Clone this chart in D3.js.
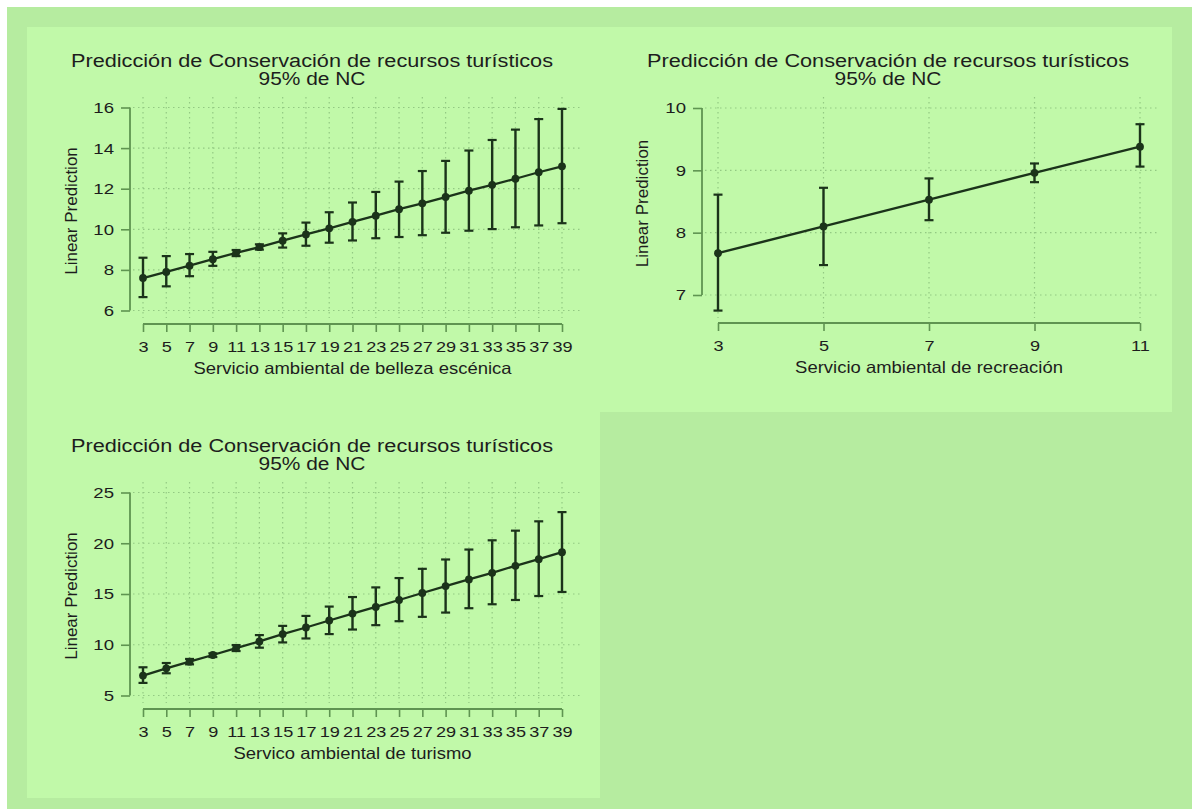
<!DOCTYPE html>
<html>
<head>
<meta charset="utf-8">
<script src="https://cdn.jsdelivr.net/npm/d3@7"></script>
<style>
  body { margin: 0; background: #ffffff; }
  text { font-family: "Liberation Sans", Arial, sans-serif; fill: #1d1d1d; }
</style>
</head>
<body>
<div id="chart"></div>
<script>
// ---- data ----
var title_1 = "Predicción de Conservación de recursos turísticos";
var title_2 = "95% de NC";
var y_title = "Linear Prediction";

// belleza escénica
var belleza_x = [3, 5, 7, 9, 11, 13, 15, 17, 19, 21, 23, 25, 27, 29, 31, 33, 35, 37, 39];
var belleza_fit = [7.60, 7.90, 8.21, 8.53, 8.84, 9.12, 9.44, 9.75, 10.05, 10.37, 10.67, 10.99, 11.28, 11.59, 11.90, 12.19, 12.49, 12.81, 13.10];
var belleza_hi = [8.60, 8.68, 8.78, 8.89, 8.98, 9.26, 9.80, 10.33, 10.84, 11.32, 11.84, 12.35, 12.87, 13.37, 13.88, 14.40, 14.91, 15.43, 15.93];
var belleza_lo = [6.66, 7.19, 7.69, 8.20, 8.68, 9.00, 9.10, 9.19, 9.34, 9.45, 9.56, 9.62, 9.71, 9.83, 9.93, 10.01, 10.10, 10.19, 10.30];
var belleza_yticks = [6, 8, 10, 12, 14, 16];
var belleza_label = "Servicio ambiental de belleza escénica";

// recreación
var recreacion_x = [3, 5, 7, 9, 11];
var recreacion_fit = [7.67, 8.10, 8.53, 8.96, 9.38];
var recreacion_hi = [8.61, 8.72, 8.87, 9.11, 9.74];
var recreacion_lo = [6.75, 7.48, 8.20, 8.81, 9.06];
var recreacion_yticks = [7, 8, 9, 10];
var recreacion_label = "Servicio ambiental de recreación";

// turismo
var turismo_x = [3, 5, 7, 9, 11, 13, 15, 17, 19, 21, 23, 25, 27, 29, 31, 33, 35, 37, 39];
var turismo_fit = [6.96, 7.68, 8.33, 8.99, 9.67, 10.33, 11.05, 11.70, 12.39, 13.07, 13.73, 14.41, 15.10, 15.78, 16.44, 17.09, 17.78, 18.43, 19.12];
var turismo_hi = [7.78, 8.20, 8.60, 9.15, 9.97, 10.95, 11.86, 12.84, 13.76, 14.70, 15.65, 16.57, 17.48, 18.40, 19.38, 20.29, 21.24, 22.16, 23.07];
var turismo_lo = [6.24, 7.19, 8.07, 8.79, 9.38, 9.71, 10.23, 10.62, 11.05, 11.50, 11.93, 12.32, 12.75, 13.17, 13.60, 13.99, 14.41, 14.80, 15.20];
var turismo_yticks = [5, 10, 15, 20, 25];
var turismo_label = "Servico ambiental de turismo";

// ---- layout ----
var W = 1192, H = 809;
var frame_col = "#b6eca0", panel_col = "#c1f9a9";
var axis_col = "#5f9451", grid_col = "#93c983", ink = "#1b331a";

var svg = d3.select("#chart").append("svg")
    .attr("width", W)
    .attr("height", H);

svg.append("rect")
    .attr("x", 7).attr("y", 7)
    .attr("width", W - 7).attr("height", H - 7)
    .attr("fill", frame_col);

// stretched label helper (the source picture is a bit wide)
function stext(g, x, y, str, size, sx, anchor) {
    return g.append("text")
        .attr("transform", "translate(" + x + "," + y + ") scale(" + sx + ",1)")
        .attr("text-anchor", anchor)
        .attr("font-size", size)
        .text(str);
}

function draw_panel(p) {
    var g = svg.append("g").attr("transform", "translate(" + p.ox + "," + p.oy + ")");

    g.append("rect")
        .attr("width", p.w).attr("height", p.h)
        .attr("fill", panel_col);

    var x = d3.scaleLinear()
        .domain(d3.extent(p.xs))
        .range([p.x0, p.x1]);
    var y = d3.scaleLinear()
        .domain(d3.extent(p.yticks))
        .range([p.y0, p.y1]);

    // grid
    g.append("g").selectAll("line")
        .data(p.yticks)
        .join("line")
            .attr("x1", p.gx0).attr("x2", p.gx1)
            .attr("y1", d => y(d)).attr("y2", d => y(d))
            .attr("stroke", grid_col)
            .attr("stroke-width", 1.2)
            .attr("stroke-dasharray", "1.5,3.5");
    g.append("g").selectAll("line")
        .data(p.xs)
        .join("line")
            .attr("x1", d => x(d)).attr("x2", d => x(d))
            .attr("y1", p.gy0).attr("y2", p.gy1)
            .attr("stroke", grid_col)
            .attr("stroke-width", 1.2)
            .attr("stroke-dasharray", "1.5,3.5");

    // y axis
    var yax = g.append("g")
        .attr("transform", "translate(" + p.ax + ",0)")
        .call(d3.axisLeft(y).tickValues(p.yticks).tickSize(9).tickPadding(7).tickFormat(d3.format("d")));
    // x axis
    var xax = g.append("g")
        .attr("transform", "translate(0," + p.ay + ")")
        .call(d3.axisBottom(x).tickValues(p.xs).tickSize(8).tickPadding(9).tickFormat(d3.format("d")));
    [yax, xax].forEach(function(a) {
        a.select(".domain").attr("stroke", axis_col).attr("stroke-width", 1.8);
        a.selectAll(".tick line").attr("stroke", axis_col).attr("stroke-width", 1.6);
        a.selectAll(".tick text")
            .attr("fill", "#1d1d1d")
            .attr("font-family", "Liberation Sans, Arial, sans-serif")
            .attr("font-size", 15.5);
    });
    yax.select(".domain").attr("d", "M0," + y(p.yticks[0]) + "V" + y(p.yticks[p.yticks.length - 1]));
    xax.select(".domain").attr("d", "M" + x(p.xs[0]) + ",0H" + x(p.xs[p.xs.length - 1]));
    xax.selectAll(".tick text").attr("transform", "scale(1.17,1)");
    yax.selectAll(".tick text").attr("transform", "scale(1.2,1)")
        .attr("x", -16 / 1.2);

    // error bars
    var rows = p.xs.map((v, i) => ({x: v, fit: p.fit[i], lo: p.lo[i], hi: p.hi[i]}));
    var eb = g.append("g").selectAll("g")
        .data(rows)
        .join("g");
    eb.append("line")
        .attr("x1", d => x(d.x)).attr("x2", d => x(d.x))
        .attr("y1", d => y(d.lo)).attr("y2", d => y(d.hi))
        .attr("stroke", ink).attr("stroke-width", 2.4);
    eb.append("line")
        .attr("x1", d => x(d.x) - 4.5).attr("x2", d => x(d.x) + 4.5)
        .attr("y1", d => y(d.hi)).attr("y2", d => y(d.hi))
        .attr("stroke", ink).attr("stroke-width", 2.2);
    eb.append("line")
        .attr("x1", d => x(d.x) - 4.5).attr("x2", d => x(d.x) + 4.5)
        .attr("y1", d => y(d.lo)).attr("y2", d => y(d.lo))
        .attr("stroke", ink).attr("stroke-width", 2.2);

    // fitted line + markers
    g.append("path")
        .datum(rows)
        .attr("fill", "none")
        .attr("stroke", ink)
        .attr("stroke-width", 2.3)
        .attr("d", d3.line().x(d => x(d.x)).y(d => y(d.fit)));
    g.append("g").selectAll("circle")
        .data(rows)
        .join("circle")
            .attr("cx", d => x(d.x))
            .attr("cy", d => y(d.fit))
            .attr("r", 3.9)
            .attr("fill", ink);

    // titles
    g.append("text")
        .attr("x", p.tx).attr("y", 40)
        .attr("text-anchor", "middle")
        .attr("font-size", 18)
        .attr("textLength", 482).attr("lengthAdjust", "spacingAndGlyphs")
        .text(title_1);
    g.append("text")
        .attr("x", p.tx).attr("y", 58)
        .attr("text-anchor", "middle")
        .attr("font-size", 18)
        .attr("textLength", 107).attr("lengthAdjust", "spacingAndGlyphs")
        .text(title_2);
    stext(g, (p.x0 + p.x1) / 2, p.ay + 50, p.label, 16.5, 1.12, "middle");
    g.append("text")
        .attr("transform", "translate(" + p.yl + "," + ((p.y0 + p.y1) / 2 + 2) + ") rotate(-90)")
        .attr("text-anchor", "middle")
        .attr("font-size", 17)
        .text(y_title);
}

var panels = [
    {ox: 27, oy: 27, w: 573, h: 385, xs: belleza_x, fit: belleza_fit, lo: belleza_lo, hi: belleza_hi,
     yticks: belleza_yticks, label: belleza_label,
     x0: 116, x1: 535, y0: 283.5, y1: 80.5, ax: 103, ay: 297, gx0: 106, gx1: 553, gy0: 70, gy1: 291,
     tx: 285, yl: 50},
    {ox: 600, oy: 27, w: 572, h: 385, xs: recreacion_x, fit: recreacion_fit, lo: recreacion_lo, hi: recreacion_hi,
     yticks: recreacion_yticks, label: recreacion_label,
     x0: 118, x1: 540, y0: 268, y1: 81, ax: 102, ay: 296, gx0: 105, gx1: 560, gy0: 70, gy1: 291,
     tx: 288, yl: 48},
    {ox: 27, oy: 412, w: 573, h: 386, xs: turismo_x, fit: turismo_fit, lo: turismo_lo, hi: turismo_hi,
     yticks: turismo_yticks, label: turismo_label,
     x0: 116, x1: 535, y0: 283.5, y1: 80.5, ax: 103, ay: 297, gx0: 106, gx1: 553, gy0: 70, gy1: 291,
     tx: 285, yl: 50}
];

panels.forEach(draw_panel);
</script>
</body>
</html>
